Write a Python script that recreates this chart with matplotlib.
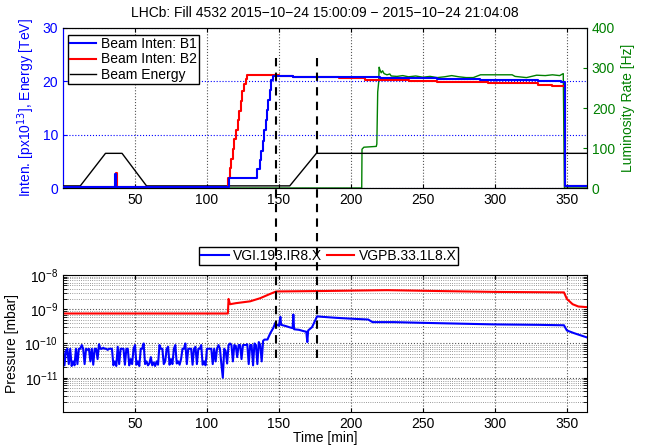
import numpy as np
import matplotlib
matplotlib.use("Agg")
import matplotlib.pyplot as plt
from matplotlib.lines import Line2D
from matplotlib.transforms import blended_transform_factory

plt.rcParams['font.family'] = ['Liberation Sans', 'DejaVu Sans']
plt.rcParams['font.size'] = 10

BLUE = '#0000ff'
RED = '#ff0000'
GREEN = '#008000'

# --- haut : intensites, energie, luminosite ---
t_b1 = [0, 36.3, 37.0, 115, 134.6, 136.8, 137.8, 138.7, 139.7, 140.7, 141.6, 142.5, 143.5, 144.6, 146,
        160, 200, 220, 240, 260, 290, 330, 346, 349, 364]
i_b1 = [0.2, 2.7, 0.2, 1.9, 3.5, 5.2, 7.0, 8.9, 10.8, 12.7, 14.6, 16.5, 18.4, 20.2, 21.0,
        20.9, 20.8, 20.7, 20.6, 20.5, 20.3, 20.1, 19.9, 0.3, 0.3]

t_b2 = [0, 37.0, 37.8, 114.6, 115.8, 116.9, 118, 119.1, 120.2, 121.3, 122.4, 123.5, 124.6, 125.7, 126.8,
        127.8, 150, 160, 192, 210, 240, 260, 295, 330, 340, 349, 364]
i_b2 = [0.2, 2.8, 0.2, 1.9, 3.7, 5.5, 7.3, 9.1, 10.9, 12.7, 14.5, 16.3, 18.1, 19.5, 20.4,
        21.1, 21.0, 20.8, 20.6, 20.3, 20.0, 19.8, 19.6, 19.3, 19.1, 0.3, 0.3]

t_energy = [0, 12, 29.5, 41, 58, 157.5, 176, 364]
energy = [0.4, 0.4, 6.5, 6.5, 0.4, 0.4, 6.5, 6.5]

t_lumi = [0, 207.5, 207.7, 209, 217.6, 218.0, 218.6, 219.3, 219.6, 220, 221, 222, 223, 225, 227, 228,
          232, 236, 240, 245, 250, 255, 260, 265, 270, 275, 280, 285, 290, 300, 312, 314, 322,
          329, 335, 340, 345, 347.5, 348.3, 364]
lumi = [0, 0, 97, 102, 104, 110, 240, 265, 302, 297, 288, 293, 286, 283, 285, 280,
        279, 281, 278, 280, 277, 279, 276, 278, 281, 278, 276, 276, 283, 283, 283, 279, 276,
        282, 281, 283, 281, 286, 0, 0]

# --- bas : pressions ---
# VGI.193.IR8.X, bruit de 0 a 140 min (valeurs en 1e-11 mbar, pas de 1 min)
t_vgi_a = list(range(0, 141))
vgi_a = [7, 2.3, 6, 7, 2.5, 7, 2.2, 3, 2.3, 7, 2.5, 7, 7, 9, 7, 2.5, 7, 6.5, 7, 3, 7,
         2.4, 7, 7, 3.5, 9.5, 7, 7, 7.5, 7, 7, 6.5, 7, 7, 7, 2.3, 3, 2.2, 8, 2.5, 7,
         7, 7, 2.4, 7, 7, 2.3, 3.5, 2.5, 7, 9, 2.4, 3, 2.2, 7, 7, 10, 2.5, 3, 2.3, 2.6,
         4, 2.3, 2.8, 2.2, 3, 2.4, 9, 7, 7, 2.5, 3, 7, 8, 2.4, 3.5, 2.5, 7, 9, 2.6, 3,
         2.4, 3.5, 7, 7, 10, 2.5, 7, 7, 7, 2.4, 7, 8, 2.5, 7, 7, 9, 2.4, 3, 2.3, 7,
         7, 7, 7, 2.5, 7, 3, 7, 9, 7, 2.5, 1.0, 7, 6, 2.6, 9, 10, 9, 3, 9, 8.5,
         4, 9, 9, 3.5, 9, 9, 9, 9.5, 2.5, 9, 9, 2.3, 10, 9, 2.5, 11, 9, 3, 12, 13]
t_vgi_b = [142, 144, 146, 147.5, 148.5, 150, 151, 151.5, 155, 157, 159.5, 160, 160.5, 164, 167,
           169, 169.7, 170.3, 173, 175, 176.5, 180, 190, 200, 212, 215, 230, 250, 275, 300,
           330, 348, 350, 355, 360, 364]
vgi_b = [1.3e-10, 2e-10, 2.8e-10, 4e-10, 3.5e-10, 3.3e-10, 6e-10, 3.5e-10, 3.2e-10, 3e-10,
         2.8e-10, 7e-10, 2.6e-10, 2.5e-10, 2.3e-10, 2.2e-10, 1.1e-10, 2.4e-10, 3e-10, 4.5e-10,
         6.2e-10, 6e-10, 5.6e-10, 5.3e-10, 5e-10, 4.2e-10, 4.2e-10, 4e-10, 3.8e-10, 3.6e-10,
         3.5e-10, 3.4e-10, 2.4e-10, 2e-10, 1.7e-10, 1.5e-10]

t_vgpb = [0, 114.5, 115, 116, 120, 130, 137, 143, 148, 180, 225, 260, 300, 348, 350, 354, 358, 364]
vgpb = [7.5e-10, 7.5e-10, 2e-9, 1.4e-9, 1.5e-9, 1.7e-9, 2.1e-9, 2.7e-9, 3.3e-9, 3.4e-9,
        3.6e-9, 3.4e-9, 3.2e-9, 3.1e-9, 2e-9, 1.4e-9, 1.2e-9, 1.15e-9]

marks = [148, 176.5]

t_vgi = t_vgi_a + t_vgi_b
vgi = list(np.array(vgi_a) * 1e-11) + vgi_b

fig = plt.figure(figsize=(6.45, 4.45), dpi=100)
ax1 = fig.add_axes([0.0977, 0.5775, 0.8124, 0.3596])
ax2 = ax1.twinx()
ax3 = fig.add_axes([0.0977, 0.0742, 0.8124, 0.3079])

# panneau du haut
ax2.plot(t_lumi, lumi, color=GREEN, lw=1)
ax1.plot(t_energy, energy, color='k', lw=1, label='Beam Energy', zorder=3)
ax1.plot(t_b2, i_b2, color=RED, lw=1.5, drawstyle='steps-post', label='Beam Inten: B2', zorder=4)
ax1.plot(t_b1, i_b1, color=BLUE, lw=1.5, drawstyle='steps-post', label='Beam Inten: B1', zorder=5)
ax1.set_zorder(ax2.get_zorder() + 1)
ax1.patch.set_visible(False)

ax1.set_xlim(0, 364)
ax1.set_ylim(0, 30)
ax2.set_ylim(0, 400)
ax1.set_xticks([50, 100, 150, 200, 250, 300, 350])
ax1.set_yticks([0, 10, 20, 30])
ax2.set_yticks([0, 100, 200, 300, 400])
ax1.tick_params(direction='in', top=True, length=3)
ax1.tick_params(axis='y', colors=BLUE)
ax2.tick_params(direction='in', length=3, colors=GREEN)
ax1.xaxis.grid(True, linestyle=':', color='#555555', lw=0.8)
ax1.yaxis.grid(True, linestyle=':', color=BLUE, lw=0.8)
ax1.spines['left'].set_color(BLUE)
ax2.spines['left'].set_color(BLUE)
ax2.spines['right'].set_color('#1f5f7f')
ax1.set_ylabel('Inten. [px10$^{13}$], Energy [TeV]', color=BLUE)
ax2.set_ylabel('Luminosity Rate [Hz]', color=GREEN)
ax1.set_title('LHCb: Fill 4532 2015\u221210\u221224 15:00:09 \u2212 2015\u221210\u221224 21:04:08',
              fontsize=10, pad=8)
h, l = ax1.get_legend_handles_labels()
order = [2, 1, 0]
leg1 = ax1.legend([h[i] for i in order], [l[i] for i in order], loc='upper left',
                  bbox_to_anchor=(-0.004, 1.0), fancybox=False, edgecolor='k',
                  framealpha=1, borderpad=0.15, labelspacing=0.1, handlelength=1.9,
                  handletextpad=0.3, fontsize=10)
leg1.get_frame().set_linewidth(1)

# panneau du bas
ax3.semilogy(t_vgi, vgi, color=BLUE, lw=1.5, label='VGI.193.IR8.X')
ax3.semilogy(t_vgpb, vgpb, color=RED, lw=1.5, label='VGPB.33.1L8.X')
ax3.set_xlim(0, 364)
ax3.set_ylim(1e-12, 1e-8)
ax3.set_xticks([50, 100, 150, 200, 250, 300, 350])
ax3.set_yticks([1e-11, 1e-10, 1e-9, 1e-8])
ax3.tick_params(direction='in', top=True, right=True, length=3, which='both')
ax3.grid(True, which='major', linestyle=':', color='#555555', lw=0.8)
ax3.yaxis.grid(True, which='minor', linestyle=':', color='#777777', lw=0.6)
ax3.set_xlabel('Time [min]', labelpad=0)
ax3.set_ylabel('Pressure [mbar]')
leg2 = ax3.legend(loc='center', bbox_to_anchor=(0.51, 0.425), bbox_transform=fig.transFigure,
                  ncol=2, fancybox=False, edgecolor='k', framealpha=1, borderpad=0.15,
                  handlelength=2.0, handletextpad=0.3, columnspacing=0.3, fontsize=10)
leg2.get_frame().set_linewidth(1)

# lignes verticales pointillees sur les deux panneaux
tr = blended_transform_factory(ax1.transData, fig.transFigure)
for m in marks:
    fig.add_artist(Line2D([m, m], [1 - 58 / 445, 1 - 358 / 445], transform=tr,
                          color='k', lw=1.5, linestyle=(0, (4, 3)), zorder=10))

fig.savefig('out.png', dpi=100)
